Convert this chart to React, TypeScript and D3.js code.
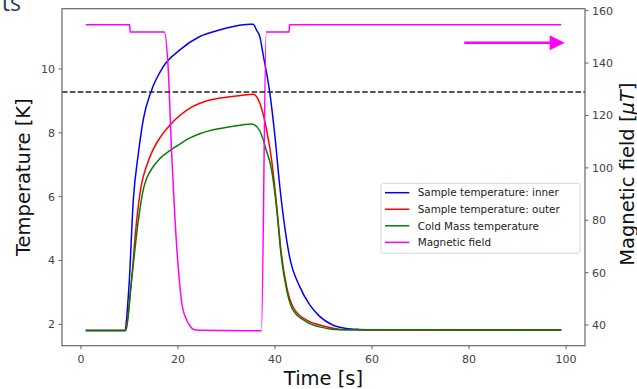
import { useEffect, useRef } from 'react'
import * as d3 from 'd3'

// time [s], temperature [K]
const innerTime = [1, 5, 9.0, 9.9, 10.8, 11.85, 12.9, 14.45, 17.0, 20.4, 24.5, 28, 31.4, 34.8, 35.5, 36.2, 36.9, 37.5, 38.9, 40.0, 41.0, 42.0, 43.0, 45.1, 47.2, 49.2, 51.9, 54.7, 57.4, 60, 80, 99]
const innerTemp = [1.81, 1.81, 1.81, 3.18, 5.9, 7.36, 8.45, 9.29, 10.08, 10.6, 11.02, 11.2, 11.33, 11.4, 11.4, 11.22, 11.0, 10.5, 9.29, 7.88, 6.31, 5.06, 4.12, 3.18, 2.6, 2.25, 1.98, 1.87, 1.84, 1.83, 1.83, 1.82]

const outerTime = [1, 5, 9.2, 10.3, 11.5, 12.4, 12.9, 13.4, 14.5, 16.3, 18.4, 23.0, 26.6, 30.7, 34.8, 35.5, 36.9, 38.2, 39.3, 40.3, 41.3, 42.4, 43.7, 46.5, 49.2, 52, 55, 80, 99]
const outerTemp = [1.81, 1.81, 1.81, 3.18, 5.27, 6.31, 6.65, 6.9, 7.35, 7.85, 8.25, 8.82, 9.03, 9.13, 9.2, 9.21, 8.92, 8.15, 7.15, 5.79, 4.23, 3.18, 2.55, 2.13, 1.98, 1.88, 1.83, 1.82, 1.82]

const coldTime = [1, 5, 9.3, 10.3, 11.85, 12.9, 13.5, 14.3, 16.3, 18.4, 19.7, 22.5, 24.5, 26.6, 30.7, 35.2, 36.9, 38.2, 39.3, 40.3, 41.3, 42.4, 43.7, 46.5, 49.2, 53.3, 80, 99]
const coldTemp = [1.81, 1.81, 1.81, 3.18, 5.27, 6.25, 6.55, 6.8, 7.2, 7.45, 7.58, 7.84, 7.97, 8.07, 8.19, 8.28, 8.05, 7.46, 6.84, 5.69, 4.12, 3.08, 2.45, 2.08, 1.92, 1.83, 1.82, 1.82]

// time [s], field [uT]
const fieldTime = [1, 10.05, 10.15, 17.2, 18.0, 18.7, 19.4, 20.1, 20.8, 21.8, 22.5, 23.2, 24.5, 37.2, 38.2, 42.9, 43.0, 99]
const fieldValue = [154.6, 154.6, 151.9, 151.9, 137.4, 105.6, 80.1, 61, 48.3, 41.9, 39.6, 38.3, 38.0, 37.8, 151.9, 151.9, 154.6, 154.6]

const criticalTemp = 9.28
const arrowFrom = [79.0, 147.8]
const arrowTo = [99.7, 147.8]

const xTicks = [0, 20, 40, 60, 80, 100]
const leftTicks = [2, 4, 6, 8, 10]
const rightTicks = [40, 60, 80, 100, 120, 140, 160]

const series = [
  { name: 'Sample temperature: inner', color: '#0000ff', t: innerTime, v: innerTemp },
  { name: 'Sample temperature: outer', color: '#ff0000', t: outerTime, v: outerTemp },
  { name: 'Cold Mass temperature', color: '#008000', t: coldTime, v: coldTemp }
]

export default function App() {
  const svgRef = useRef<SVGSVGElement>(null)
  const width = 637
  const height = 389

  useEffect(() => {
    if (!svgRef.current) return
    const svg = d3.select(svgRef.current)
    svg.selectAll('*').remove()

    const left = 62, right = 585, top = 8.7, bottom = 345.7
    const font = 'DejaVu Sans, sans-serif'

    const x = d3.scaleLinear().domain([-3.9, 103.9]).range([left, right])
    const yT = d3.scaleLinear().domain([1.33, 11.89]).range([bottom, top])
    const yB = d3.scaleLinear().domain([32.1, 160.76]).range([bottom, top])

    svg.append('text')
      .attr('x', 21).attr('y', 11)
      .attr('text-anchor', 'end')
      .attr('font-family', 'Open Sans, sans-serif')
      .attr('font-size', 23)
      .attr('fill', '#1f3864')
      .text('ts')

    const plot = svg.append('g')
    plot.append('clipPath').attr('id', 'clip')
      .append('rect').attr('x', left).attr('y', top).attr('width', right - left).attr('height', bottom - top)
    const g = plot.append('g').attr('clip-path', 'url(#clip)')

    // temperatures
    series.forEach(s => {
      const pts = s.t.map((t, i) => [t, s.v[i]] as [number, number])
      g.append('path')
        .datum(pts)
        .attr('fill', 'none')
        .attr('stroke', s.color)
        .attr('stroke-width', 1.5)
        .attr('d', d3.line<[number, number]>().x(d => x(d[0])).y(d => yT(d[1])).curve(d3.curveMonotoneX))
    })

    // magnetic field
    const fpts = fieldTime.map((t, i) => [t, fieldValue[i]] as [number, number])
    g.append('path')
      .datum(fpts)
      .attr('fill', 'none')
      .attr('stroke', '#ff00ff')
      .attr('stroke-width', 1.5)
      .attr('stroke-linejoin', 'round')
      .attr('d', d3.line<[number, number]>().x(d => x(d[0])).y(d => yB(d[1])).curve(d3.curveMonotoneX))

    // Tc line
    g.append('line')
      .attr('x1', left).attr('x2', right)
      .attr('y1', yT(criticalTemp)).attr('y2', yT(criticalTemp))
      .attr('stroke', '#222')
      .attr('stroke-width', 1.5)
      .attr('stroke-dasharray', '5.5,2.4')

    // arrow
    const ax1 = x(arrowFrom[0]), ay = yB(arrowFrom[1]), ax2 = x(arrowTo[0])
    g.append('line')
      .attr('x1', ax1).attr('x2', ax2 - 12).attr('y1', ay).attr('y2', ay)
      .attr('stroke', '#ff00ff').attr('stroke-width', 2.5)
    g.append('path')
      .attr('d', `M${ax2},${ay} L${ax2 - 15},${ay - 7.5} L${ax2 - 15},${ay + 7.5} Z`)
      .attr('fill', '#ff00ff')

    // spines
    plot.append('rect')
      .attr('x', left).attr('y', top).attr('width', right - left).attr('height', bottom - top)
      .attr('fill', 'none').attr('stroke', '#666').attr('stroke-width', 1.2)

    const tickColor = '#444'
    const ax = svg.append('g')
    xTicks.forEach(t => {
      ax.append('line').attr('x1', x(t)).attr('x2', x(t)).attr('y1', bottom).attr('y2', bottom + 3.5)
        .attr('stroke', '#666')
      ax.append('text').attr('x', x(t)).attr('y', 363.3).attr('text-anchor', 'middle')
        .attr('font-family', font).attr('font-size', 11).attr('fill', tickColor).text(t)
    })
    leftTicks.forEach(t => {
      ax.append('line').attr('x1', left - 3.5).attr('x2', left).attr('y1', yT(t)).attr('y2', yT(t))
        .attr('stroke', '#666')
      ax.append('text').attr('x', left - 7).attr('y', yT(t)).attr('dy', '0.36em').attr('text-anchor', 'end')
        .attr('font-family', font).attr('font-size', 11).attr('fill', tickColor).text(t)
    })
    rightTicks.forEach(t => {
      ax.append('line').attr('x1', right).attr('x2', right + 3.5).attr('y1', yB(t)).attr('y2', yB(t))
        .attr('stroke', '#666')
      ax.append('text').attr('x', right + 7).attr('y', yB(t)).attr('dy', '0.36em').attr('text-anchor', 'start')
        .attr('font-family', font).attr('font-size', 11).attr('fill', tickColor).text(t)
    })

    // axis labels
    svg.append('text')
      .attr('x', (left + right) / 2).attr('y', 384.5)
      .attr('text-anchor', 'middle')
      .attr('font-family', font).attr('font-size', 19.5).attr('fill', '#111')
      .text('Time [s]')
    svg.append('text')
      .attr('transform', `translate(29.8,${(top + bottom) / 2}) rotate(-90)`)
      .attr('text-anchor', 'middle')
      .attr('font-family', font).attr('font-size', 19.5).attr('fill', '#111')
      .text('Temperature [K]')
    const rl = svg.append('text')
      .attr('transform', `translate(633.5,${(top + bottom) / 2 - 3}) rotate(-90)`)
      .attr('text-anchor', 'middle')
      .attr('font-family', font).attr('font-size', 19.5).attr('fill', '#111')
    rl.append('tspan').text('Magnetic field [')
    rl.append('tspan').attr('font-style', 'italic').text('μT')
    rl.append('tspan').text(']')

    // legend
    const lg = svg.append('g')
    lg.append('rect')
      .attr('x', 381).attr('y', 183.3).attr('width', 199).attr('height', 70)
      .attr('rx', 2.5)
      .attr('fill', 'white').attr('fill-opacity', 0.85)
      .attr('stroke', '#d6d6d6')
    const entries = [...series.map(s => ({ name: s.name, color: s.color })), { name: 'Magnetic field', color: '#ff00ff' }]
    entries.forEach((e, i) => {
      const yy = 192.7 + i * 16.55
      lg.append('line').attr('x1', 385).attr('x2', 409.3).attr('y1', yy).attr('y2', yy)
        .attr('stroke', e.color).attr('stroke-width', 1.5)
      lg.append('text').attr('x', 417.7).attr('y', yy).attr('dy', '0.36em')
        .attr('font-family', font).attr('font-size', 10.4).attr('fill', '#222')
        .text(e.name)
    })
  }, [])

  return (
    <svg ref={svgRef} width={width} height={height}
      style={{ position: 'absolute', left: 0, top: 0, background: '#fff' }} />
  )
}
